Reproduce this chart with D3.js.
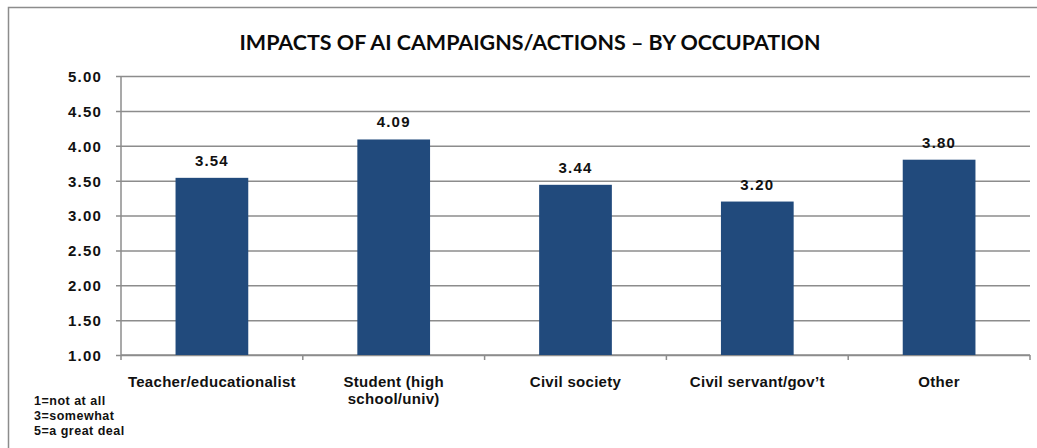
<!DOCTYPE html>
<html lang="en">
    <head>
        <meta charset="UTF-8" />
        <title>impacts by occupation</title>
        <script src="https://cdn.jsdelivr.net/npm/d3@7"></script>
        <style>
            body { margin: 0; background: #fff; }
            svg { display: block; }
        </style>
    </head>
    <body>
        <svg id="chart" width="1037" height="448"></svg>
        <script>
            // data
            const categories = ['Teacher/educationalist', 'Student (high|school/univ)', 'Civil society', 'Civil servant/gov\u2019t', 'Other']
            const values = [3.54, 4.09, 3.44, 3.20, 3.80]
            const yTicks = [1.0, 1.5, 2.0, 2.5, 3.0, 3.5, 4.0, 4.5, 5.0]
            const title = 'IMPACTS OF AI CAMPAIGNS/ACTIONS \u2013 BY OCCUPATION'
            const notes = ['1=not at all', '3=somewhat', '5=a great deal']

            const plot = { left: 121, right: 1030, top: 76, bottom: 355 }
            const grey = '#8c8c8c'
            const barColor = '#214a7c'
            const font = '"Liberation Sans", Arial, sans-serif'

            const svg = d3.select('#chart')

            // outer frame (runs off the right and bottom edge)
            svg.append('rect')
                .attr('x', 8.5)
                .attr('y', 7.5)
                .attr('width', 1100)
                .attr('height', 500)
                .style('fill', 'none')
                .style('stroke', grey)
                .style('stroke-width', 1.5)

            svg.append('text')
                .attr('x', 530)
                .attr('y', 50)
                .attr('text-anchor', 'middle')
                .attr('textLength', 581)
                .attr('lengthAdjust', 'spacingAndGlyphs')
                .style('font-family', 'Lato, "Open Sans", sans-serif')
                .style('font-weight', 'bold')
                .style('font-size', '20px')
                .style('fill', '#0a0a0a')
                .text(title)

            const x = d3.scaleBand()
                .domain(categories)
                .range([plot.left, plot.right])
                .paddingInner(0.6)
                .paddingOuter(0.3)

            const y = d3.scaleLinear()
                .domain([1, 5])
                .range([plot.bottom, plot.top])

            // gridlines + y axis
            const yAxis = svg.append('g')
                .attr('transform', `translate(${plot.left},0)`)
                .call(d3.axisLeft(y).tickValues(yTicks).tickFormat(d3.format('.2f'))
                    .tickSize(5).tickPadding(0))
            yAxis.select('.domain').remove()
            yAxis.selectAll('line')
                .attr('x2', plot.right - plot.left)
                .attr('x1', -5)
                .style('stroke', grey)
                .style('stroke-width', 1.5)
            yAxis.selectAll('text')
                .attr('x', -19)
                .attr('dy', '0.36em')
                .style('font-family', font)
                .style('font-weight', 'bold')
                .style('font-size', '15px')
                .style('letter-spacing', '1.2px')
                .style('fill', '#111')

            svg.append('line')
                .attr('x1', plot.left)
                .attr('x2', plot.left)
                .attr('y1', y(5))
                .attr('y2', y(1))
                .style('stroke', grey)
                .style('stroke-width', 1.5)

            // x axis with ticks at the band edges
            const edges = categories.map(c => x(c) - x.step() * x.paddingInner() / 2)
            edges.push(plot.right)
            svg.append('line')
                .attr('x1', plot.left)
                .attr('x2', plot.right)
                .attr('y1', y(1))
                .attr('y2', y(1))
                .style('stroke', grey)
                .style('stroke-width', 1.5)
            svg.selectAll('line.xtick')
                .data(edges)
                .enter()
                    .append('line')
                    .attr('class', 'xtick')
                    .attr('x1', d => d)
                    .attr('x2', d => d)
                    .attr('y1', y(1))
                    .attr('y2', y(1) + 5)
                    .style('stroke', grey)
                    .style('stroke-width', 1.5)

            svg.selectAll('rect.bar')
                .data(values)
                .enter()
                    .append('rect')
                    .attr('class', 'bar')
                    .attr('x', (d, i) => x(categories[i]))
                    .attr('width', x.bandwidth())
                    .attr('y', d => y(d))
                    .attr('height', d => y(1) - y(d))
                    .style('fill', barColor)

            svg.selectAll('text.value')
                .data(values)
                .enter()
                    .append('text')
                    .attr('class', 'value')
                    .attr('x', (d, i) => x(categories[i]) + x.bandwidth() / 2)
                    .attr('y', d => y(d) - 12)
                    .attr('text-anchor', 'middle')
                    .style('font-family', font)
                    .style('font-weight', 'bold')
                    .style('font-size', '15px')
                    .style('letter-spacing', '1.2px')
                    .style('fill', '#111')
                    .text(d => d.toFixed(2))

            const labels = svg.selectAll('text.cat')
                .data(categories)
                .enter()
                    .append('text')
                    .attr('class', 'cat')
                    .attr('text-anchor', 'middle')
                    .style('font-family', font)
                    .style('font-weight', 'bold')
                    .style('font-size', '15px')
                    .style('letter-spacing', '0.3px')
                    .style('fill', '#111')
            labels.selectAll('tspan')
                .data(d => d.split('|').map(t => ({ t, c: d })))
                .enter()
                    .append('tspan')
                    .attr('x', d => x(d.c) + x.bandwidth() / 2)
                    .attr('y', (d, i) => 387 + i * 17)
                    .text(d => d.t)

            svg.selectAll('text.note')
                .data(notes)
                .enter()
                    .append('text')
                    .attr('class', 'note')
                    .attr('x', 34)
                    .attr('y', (d, i) => 405 + i * 15)
                    .style('font-family', font)
                    .style('font-weight', 'bold')
                    .style('font-size', '12.5px')
                    .style('letter-spacing', '0.5px')
                    .style('fill', '#111')
                    .text(d => d)
        </script>
    </body>
</html>
